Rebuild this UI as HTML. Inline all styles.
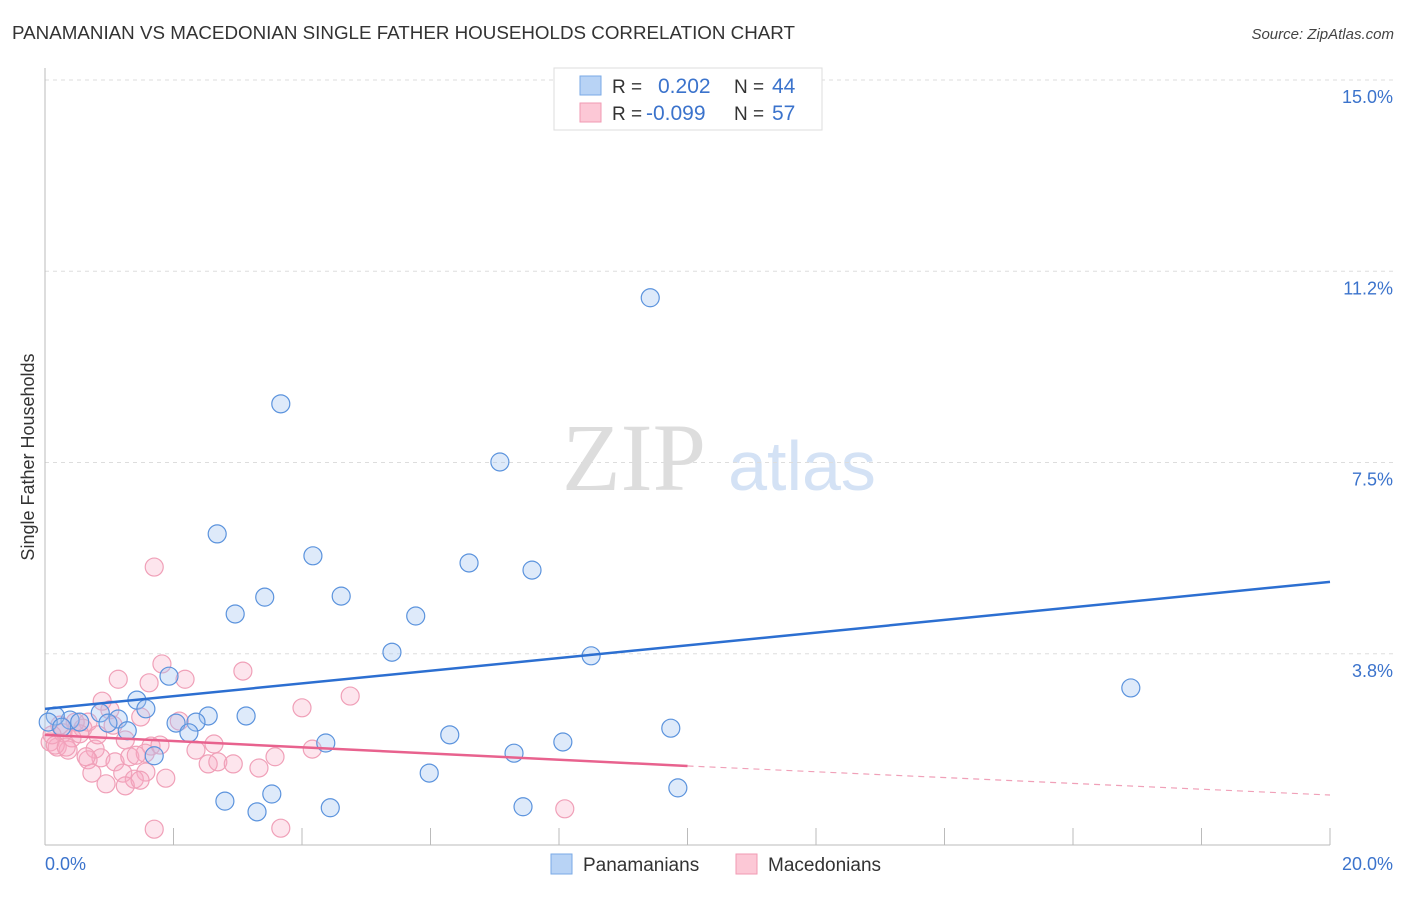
<!DOCTYPE html>
<html><head><meta charset="utf-8"><style>
body{margin:0;background:#fff;font-family:"Liberation Sans",sans-serif}
svg text{font-family:"Liberation Sans",sans-serif}
</style></head><body>
<svg id="chart" width="1406" height="892" xmlns="http://www.w3.org/2000/svg">
<text x="12" y="39" font-size="18" fill="#333" textLength="783" lengthAdjust="spacingAndGlyphs">PANAMANIAN VS MACEDONIAN SINGLE FATHER HOUSEHOLDS CORRELATION CHART</text>
<text x="1394" y="39" font-size="15" fill="#444" text-anchor="end" font-style="italic">Source: ZipAtlas.com</text>
<g>
<text x="634" y="490" font-size="96" fill="#ddd" text-anchor="middle" font-family="Liberation Serif" style="font-family:'Liberation Serif',serif">ZIP</text>
<text x="802" y="490" font-size="70" fill="#d4e2f5" text-anchor="middle">atlas</text>
</g>
<g id="grid"></g>
<g id="axes"></g>
<g id="points"></g>
<g id="trends"></g>
<text transform="translate(34,457) rotate(-90)" font-size="18" fill="#333" text-anchor="middle">Single Father Households</text>
<g>
<rect x="554" y="68" width="268" height="62" fill="#fff" stroke="#ddd"/>
<rect x="580" y="76" width="21" height="19" fill="#b8d3f5" stroke="#7aa9e6"/>
<rect x="580" y="103" width="21" height="19" fill="#fcc8d6" stroke="#f19ab3"/>
<text x="612" y="93" font-size="19" fill="#333">R =</text>
<text x="658" y="93" font-size="21" fill="#3b73cc">0.202</text>
<text x="734" y="93" font-size="19" fill="#333">N =</text>
<text x="772" y="93" font-size="21" fill="#3b73cc">44</text>
<text x="612" y="120" font-size="19" fill="#333">R =</text>
<text x="646" y="120" font-size="21" fill="#3b73cc">-0.099</text>
<text x="734" y="120" font-size="19" fill="#333">N =</text>
<text x="772" y="120" font-size="21" fill="#3b73cc">57</text>
</g>
<g>
<rect x="551" y="854" width="21" height="20" fill="#b8d3f5" stroke="#7aa9e6"/>
<text x="583" y="871" font-size="19" fill="#333">Panamanians</text>
<rect x="736" y="854" width="21" height="20" fill="#fcc8d6" stroke="#f19ab3"/>
<text x="768" y="871" font-size="19" fill="#333">Macedonians</text>
</g>
</svg>
<script>
const yTicks=[15.0,11.25,7.5,3.75];
const yTickLabels=["15.0%","11.2%","7.5%","3.8%"];
const xTicks=[2,4,6,8,10,12,14,16,18,20];
const blueX=[9.42,3.67,7.08,2.68,4.17,6.60,7.58,3.42,4.61,2.96,5.77,5.40,8.50,16.90,1.93,1.43,1.57,2.54,3.13,0.86,1.14,0.39,0.16,0.98,2.04,2.35,1.28,2.24,9.74,6.30,4.37,8.06,7.30,1.70,5.98,2.80,3.53,4.44,7.44,3.30,9.85,0.05,0.26,0.54];
const blueY=[10.73,8.65,7.51,6.10,5.67,5.53,5.39,4.86,4.88,4.53,4.49,3.78,3.71,3.08,3.31,2.84,2.67,2.53,2.53,2.59,2.47,2.45,2.53,2.39,2.39,2.41,2.24,2.20,2.29,2.16,2.00,2.02,1.80,1.75,1.41,0.86,1.00,0.73,0.75,0.65,1.12,2.41,2.31,2.41];
const pinkX=[1.70,1.82,3.08,2.18,1.14,1.62,4.75,0.89,4.00,1.01,1.49,2.09,0.67,0.59,0.23,0.08,0.19,0.36,1.25,2.63,4.16,0.78,1.65,0.87,3.58,0.28,0.42,0.67,1.09,1.32,2.54,2.69,3.33,0.73,1.21,1.57,1.39,0.95,1.25,1.88,1.48,1.70,3.67,8.09,0.11,0.16,0.47,0.54,1.06,1.56,0.82,0.33,0.64,1.79,1.42,2.93,2.35];
const pinkY=[5.45,3.55,3.41,3.25,3.25,3.18,2.92,2.82,2.69,2.65,2.51,2.43,2.41,2.29,2.35,2.02,1.92,1.86,2.06,1.98,1.88,1.88,1.94,1.71,1.73,2.20,2.10,1.67,1.63,1.73,1.59,1.63,1.51,1.41,1.41,1.43,1.29,1.20,1.16,1.31,1.27,0.31,0.33,0.71,2.16,1.96,2.41,2.18,2.35,1.80,2.16,1.92,1.73,1.96,1.76,1.59,1.86];
const blueTrend=[2.67,5.16];
const pinkTrend=[2.16,1.55,0.98];
const NS="http://www.w3.org/2000/svg";
const X0=45,X1=1330,Y0=845,PXY=51;
const sx=v=>X0+v/20*(X1-X0);
const sy=v=>Y0-v*PXY;
function mk(tag,attrs,parent){const e=document.createElementNS(NS,tag);for(const k in attrs)e.setAttribute(k,attrs[k]);document.getElementById(parent).appendChild(e);return e;}
yTicks.forEach((t,i)=>{
 const g=mk('line',{x1:45,x2:1395,y1:sy(t),y2:sy(t),stroke:'#ddd','stroke-dasharray':'4,4'},'grid');
 
 
 const l=mk('text',{x:1393,y:sy(t)+23,'font-size':18,fill:'#3b73cc','text-anchor':'end'},'grid');
 l.textContent=yTickLabels[i];
 
 
});
const ya=mk('line',{x1:45,x2:45,y1:68,y2:845,stroke:'#bbb'},'axes');


const xa=mk('line',{x1:45,x2:1330,y1:845,y2:845,stroke:'#bbb'},'axes');


xTicks.forEach(t=>{
 const k=mk('line',{x1:sx(t),x2:sx(t),y1:828,y2:845,stroke:'#bbb'},'axes');
 
 
});
const xl0=mk('text',{x:45,y:870,'font-size':18,fill:'#3b73cc'},'axes');xl0.textContent='0.0%';


const xl1=mk('text',{x:1393,y:870,'font-size':18,fill:'#3b73cc','text-anchor':'end'},'axes');xl1.textContent='20.0%';


pinkX.forEach((v,i)=>{
 const c=mk('circle',{cx:sx(v),cy:sy(pinkY[i]),r:9,fill:'rgba(248,170,195,0.3)',stroke:'#f0a0b8','stroke-width':1.2},'points');
 
 
});
blueX.forEach((v,i)=>{
 const c=mk('circle',{cx:sx(v),cy:sy(blueY[i]),r:9,fill:'rgba(160,196,240,0.35)',stroke:'#5b93dd','stroke-width':1.2},'points');
 
 
});
const bt=mk('line',{x1:sx(0),y1:sy(blueTrend[0]),x2:sx(20),y2:sy(blueTrend[1]),stroke:'#2c6fd1','stroke-width':2.5},'trends');


const pt=mk('line',{x1:sx(0),y1:sy(pinkTrend[0]),x2:sx(10),y2:sy(pinkTrend[1]),stroke:'#e8628e','stroke-width':2.5},'trends');


const pd=mk('line',{x1:sx(10),y1:sy(pinkTrend[1]),x2:sx(20),y2:sy(pinkTrend[2]),stroke:'#f0a0b8','stroke-width':1.2,'stroke-dasharray':'6,5'},'trends');


</script>
</body></html>
